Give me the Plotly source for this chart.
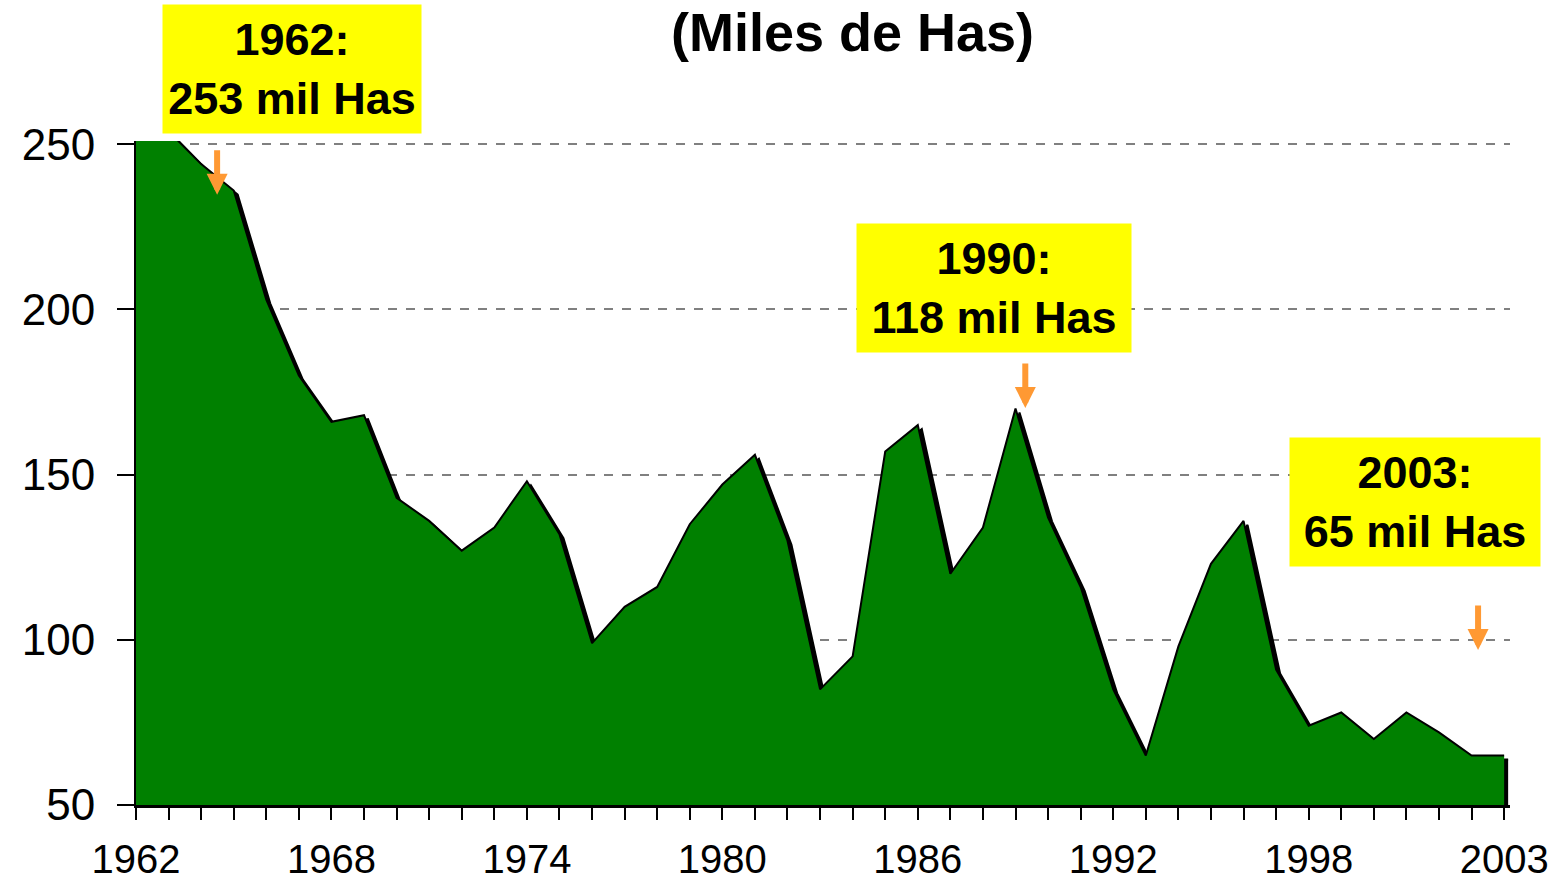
import plotly.graph_objects as go

# ---- data ----
years = [1962, 1963, 1964, 1965, 1966, 1967, 1968, 1969, 1970, 1971,
         1972, 1973, 1974, 1975, 1976, 1977, 1978, 1979, 1980, 1981,
         1982, 1983, 1984, 1985, 1986, 1987, 1988, 1989, 1990, 1991,
         1992, 1993, 1994, 1995, 1996, 1997, 1998, 1999, 2000, 2001,
         2002, 2003, 2004]
hectares = [253, 254, 244, 236, 203, 180, 166, 168, 143, 136,
            127, 134, 148, 132, 99, 110, 116, 135, 147, 156,
            130, 85, 95, 157, 165, 120, 134, 170, 137, 116,
            85, 65, 98, 123, 136, 91, 74, 78, 70, 78,
            72, 65, 65]
tick_years = [1962, 1968, 1974, 1980, 1986, 1992, 1998, 2004]
tick_labels = ["1962", "1968", "1974", "1980", "1986", "1992", "1998", "2003"]
y_ticks = [50, 100, 150, 200, 250]
title_text = "(Miles de Has)"
callouts = ["1962:<br>253 mil Has", "1990:<br>118 mil Has", "2003:<br>65 mil Has"]

# ---- geometry ----
W, H = 1557, 882
ML, MR, MT, MB = 136, 47, 141, 77
XR = [1962, 2004.18]
YR = [50, 251]
pw = W - ML - MR
ph = H - MT - MB
px_x = pw / (XR[1] - XR[0])
px_y = ph / (YR[1] - YR[0])
sx, sy = 4, 4  # shadow offset in pixels
XR_sh = [XR[0] - sx / px_x, XR[1] - sx / px_x]
YR_sh = [YR[0] + sy / px_y, YR[1] + sy / px_y]

FONT = "Liberation Sans, Arial, sans-serif"
GREEN = "#008000"
ORANGE = "#FF9933"

fig = go.Figure()
# shadow
fig.add_trace(go.Scatter(x=years, y=hectares, xaxis="x2", yaxis="y2",
                         mode="lines", fill="tozeroy", fillcolor="black",
                         line=dict(color="black", width=2), hoverinfo="skip",
                         showlegend=False))
# main area
fig.add_trace(go.Scatter(x=years, y=hectares, xaxis="x3", yaxis="y3",
                         mode="lines", fill="tozeroy", fillcolor=GREEN,
                         line=dict(color="black", width=2),
                         showlegend=False))

fig.update_layout(
    width=W, height=H,
    margin=dict(l=ML, r=MR, t=MT, b=MB, autoexpand=False),
    paper_bgcolor="white", plot_bgcolor="white",
    font=dict(family=FONT, color="black"),
    xaxis=dict(range=XR, tickmode="array", tickvals=tick_years, ticktext=tick_labels,
               showline=True, linecolor="black", linewidth=3,
               ticks="outside", ticklen=12, tickwidth=2, tickcolor="black",
               minor=dict(tick0=1962, dtick=1, ticks="outside", ticklen=12,
                          tickwidth=2, tickcolor="black", showgrid=False),
               showgrid=False, zeroline=False,
               tickfont=dict(size=40, family=FONT, color="black"),
               ticklabelstandoff=5),
    yaxis=dict(range=YR, tickmode="array", tickvals=y_ticks,
               showline=True, linecolor="black", linewidth=2,
               ticks="outside", ticklen=17, tickwidth=2, tickcolor="black",
               showgrid=True, gridcolor="#808080", gridwidth=1.5, griddash="dash",
               zeroline=False,
               tickfont=dict(size=44, family=FONT, color="black"),
               ticklabelstandoff=13),
    xaxis2=dict(range=XR_sh, overlaying="x", visible=False),
    yaxis2=dict(range=YR_sh, overlaying="y", visible=False),
    xaxis3=dict(range=XR, overlaying="x", visible=False),
    yaxis3=dict(range=YR, overlaying="y", visible=False),
)

def paper_x(p):
    return (p - ML) / pw

def paper_y(p):
    return (H - MB - p) / ph

# title, kept fully inside the page at the very top
fig.add_annotation(text="<b>" + title_text + "</b>", xref="paper", yref="paper",
                   x=paper_x(852), y=paper_y(0), xanchor="center", yanchor="top",
                   showarrow=False, font=dict(size=54, family=FONT, color="black"))

# yellow callout boxes (center px, width, height)
boxes = [(292, 69, 258, 128), (994, 288, 274, 128), (1415, 502, 250, 128)]
for txt, (cx, cy, bw, bh) in zip(callouts, boxes):
    fig.add_annotation(text="<b>" + txt + "</b>", xref="paper", yref="paper",
                       x=paper_x(cx), y=paper_y(cy), xanchor="center", yanchor="middle",
                       width=bw, height=bh, bgcolor="#FFFF00", borderpad=0,
                       align="center", valign="middle", showarrow=False,
                       font=dict(size=45, family=FONT, color="black"))

# orange arrows: tip positions in axis coordinates
arrow_tips = [(1964.49, 234.7), (1989.3, 170.2), (2003.2, 96.9)]
for ax_, ay_ in arrow_tips:
    fig.add_annotation(x=ax_, y=ay_, xref="x", yref="y", text="",
                       showarrow=True, ax=0, ay=-46, axref="pixel", ayref="pixel",
                       arrowhead=2, arrowsize=0.7, arrowwidth=6, arrowcolor=ORANGE)

fig.write_html("out.html", config={"displayModeBar": False},
               post_script="document.body.style.margin='0';")
